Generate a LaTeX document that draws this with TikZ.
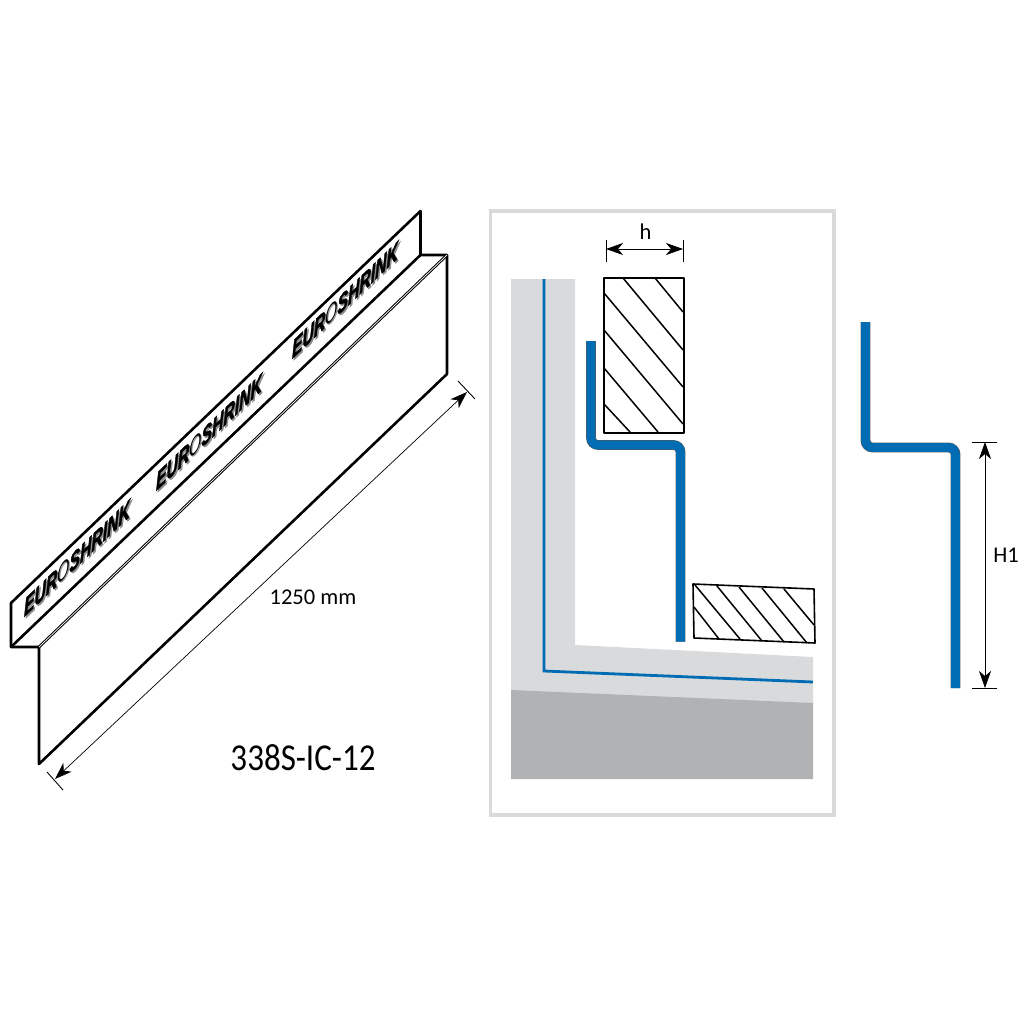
\documentclass[tikz,border=0pt]{standalone}
\usepackage{fontspec}
\setmainfont{Carlito}
\newfontfamily\logofont[FakeBold=2.6]{Liberation Sans Bold Italic}
\newfontfamily\logothin{Liberation Sans Italic}
\usetikzlibrary{arrows.meta}
\definecolor{lightwall}{RGB}{217,218,220}
\definecolor{darkfloor}{RGB}{177,178,180}
\definecolor{stripblue}{RGB}{0,108,180}
\definecolor{framegray}{RGB}{217,218,219}
\tikzset{
    outline/.style={line width=2.6pt, line join=round, line cap=round},
    tick/.style={line width=0.9pt},
    dimline/.style={line width=0.7pt, {Stealth[length=17pt,width=12pt,inset=5pt]}-{Stealth[length=17pt,width=12pt,inset=5pt]}},
    hatch/.style={line width=1.5pt},
    blockbox/.style={draw, line width=1.6pt, line join=round},
    profile/.style={draw=black!65, double=stripblue, double distance=8.6pt, line width=0.6pt, rounded corners=7pt},
    logo/.style={font=\logofont\fontsize{25}{25}\selectfont, xscale=0.63, yslant=0.60, transform shape, inner sep=0pt},
    lengthlabel/.style={font=\fontsize{22.5}{22.5}\selectfont, inner sep=0pt}
}
\newcommand{\logotext}{EUR{\logothin O}SHRINK}
\begin{document}
\begin{tikzpicture}[x=1pt, y=-1pt]
    \useasboundingbox (0,0) rectangle (1024,1024);
    % frame and section
    \draw[framegray, line width=3.6pt] (490.5,211) rectangle (834,815);
    \fill[lightwall] (511,279) -- (575,279) -- (575,645) -- (813,657) -- (813,705) -- (511,692) -- cycle;
    \fill[darkfloor] (511,690) -- (813,703) -- (813,779) -- (511,779) -- cycle;
    \draw[stripblue, line width=2.8pt] (544,279) -- (544,671) -- (813,682);
    % hatched blocks
    \node[blockbox, minimum width=80pt, minimum height=155pt, inner sep=0pt] (upperblock) at (644,355.5) {};
    \draw[hatch] (623,278) -- (683,350);
    \draw[hatch] (655,278) -- (683,312);
    \draw[hatch] (604,293) -- (683,387);
    \draw[hatch] (604,330) -- (683,424);
    \draw[hatch] (604,368) -- (658,432);
    \draw[hatch] (604,404) -- (630,432);
    \draw[blockbox] (693,584) -- (814,589) -- (815,643) -- (694,638) -- cycle;
    \draw[hatch] (695,585) -- (740,639);
    \draw[hatch] (717,586) -- (762,641);
    \draw[hatch] (739,587) -- (784,642);
    \draw[hatch] (762,588) -- (807,643);
    \draw[hatch] (784,589) -- (814,625);
    \draw[hatch] (694,607) -- (719,639);
    % blue profiles
    \draw[profile] (591,341) -- (591,445) -- (680.5,445) -- (680.5,641.5);
    \draw[profile] (865.5,322) -- (865.5,447.5) -- (955.5,447.5) -- (955.5,688);
    % h dimension
    \coordinate (hleft) at (606,249);
    \coordinate (hright) at (683,249);
    \draw[tick] (606,240) -- (606,262);
    \draw[tick] (683,240) -- (683,262);
    \draw[dimline] (hleft) -- (hright);
    \node[lengthlabel] (hlabel) at (645.5,232) {h};
    % H1 dimension
    \coordinate (htop) at (985,442);
    \coordinate (hbottom) at (985,688);
    \draw[tick] (972,442) -- (997,442);
    \draw[tick] (972,688) -- (997,688);
    \draw[dimline] (htop) -- (hbottom);
    \node[lengthlabel] (hfull) at (1006,555) {H1};
    % the strip
    \draw[outline] (11,603) -- (420.5,211) -- (420.5,255) -- (447,255) -- (447,374) -- (39,764) -- (39,647) -- (11,647) -- cycle;
    \draw[outline] (11,647) -- (420.5,255);
    \draw[line width=2.8pt] (39,647) -- (447,255);
    \draw[white, line width=0.7pt] (39,647) -- (447,255);
    \foreach \name/\xc/\yc in {logoa/77/558, logob/209/432, logoc/345/300} {
        \node[logo, text=black!45] at (\xc+1.5,\yc+1.5) {\logotext};
        \node[logo] (\name) at (\xc,\yc) {\logotext};
    }
    % length dimension
    \coordinate (lengthlow) at (55,779);
    \coordinate (lengthhigh) at (467,392);
    \draw[tick] (47,772) -- (63,790);
    \draw[tick] (458,381) -- (475,399);
    \draw[dimline] (lengthlow) -- (lengthhigh);
    \node[lengthlabel] (lengthtext) at (313,597) {1250 mm};
    \node[inner sep=0pt, xscale=0.87, transform shape, font=\fontsize{38}{38}\selectfont] (partcode) at (303,758) {338S-IC-12};
\end{tikzpicture}
\end{document}
